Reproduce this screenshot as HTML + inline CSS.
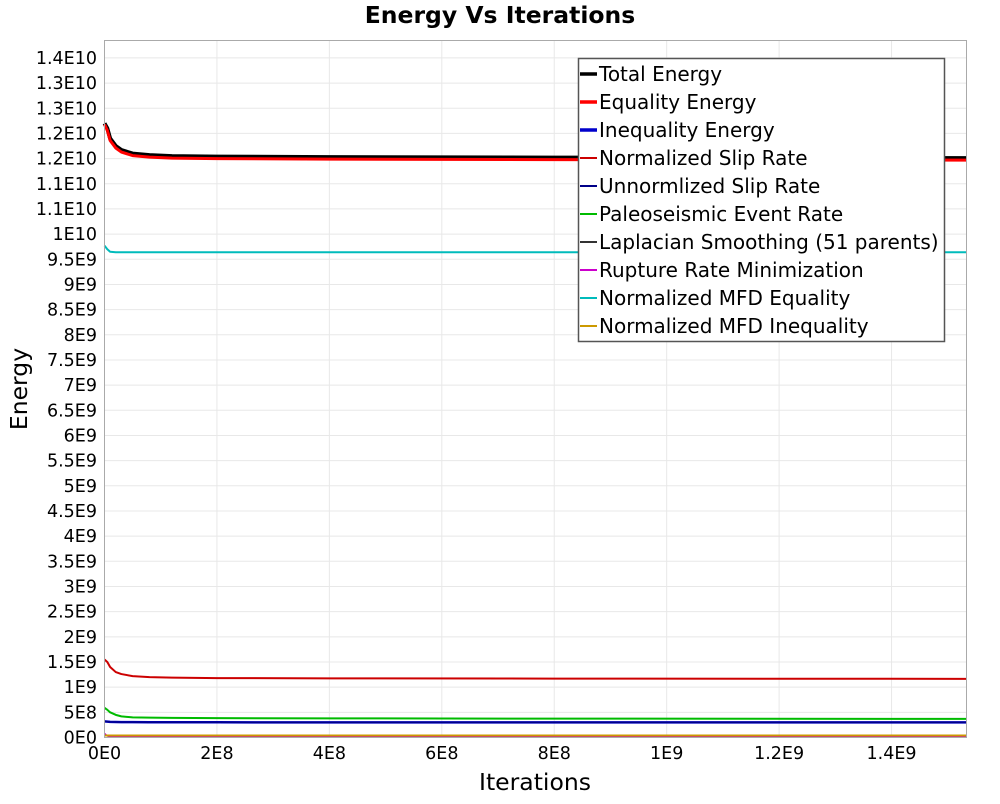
<!DOCTYPE html>
<html><head><meta charset="utf-8"><style>
body{margin:0;background:#fff;font-family:"DejaVu Sans","Liberation Sans",sans-serif}
</style></head><body>
<svg id="chart" width="1000" height="800" xmlns="http://www.w3.org/2000/svg" font-family="DejaVu Sans, Liberation Sans, sans-serif">
<text x="500" y="23" text-anchor="middle" font-size="23.5" font-weight="bold">Energy Vs Iterations</text>
<g id="grid"></g>
<g id="series"></g>
<rect x="104.5" y="40.5" width="862" height="697" fill="none" stroke="#aaa"/>
<g id="yticks"></g><g id="xticks"></g>
<text transform="translate(27,389) rotate(-90)" text-anchor="middle" font-size="23.5">Energy</text>
<text x="535" y="790" text-anchor="middle" font-size="23.5">Iterations</text>
<g id="legend"></g>
</svg>
<script>
const xs=[0,0.05e8,0.1e8,0.2e8,0.3e8,0.5e8,0.8e8,1.2e8,2e8,4e8,8e8,15.33e8];
const totalEnergy=[1.22e10,1.21e10,1.19e10,1.175e10,1.167e10,1.16e10,1.157e10,1.155e10,1.154e10,1.153e10,1.152e10,1.151e10];
const equalityEnergy=[1.218e10,1.206e10,1.186e10,1.171e10,1.163e10,1.156e10,1.153e10,1.151e10,1.15e10,1.149e10,1.148e10,1.147e10];
const inequalityEnergy=[3.2e8,3.15e8,3.1e8,3.08e8,3.06e8,3.05e8,3.04e8,3.03e8,3.02e8,3.01e8,3.0e8,3.0e8];
const normSlip=[1.55e9,1.5e9,1.4e9,1.3e9,1.26e9,1.22e9,1.2e9,1.19e9,1.18e9,1.175e9,1.17e9,1.165e9];
const unnormSlip=[3.2e8,3.15e8,3.1e8,3.08e8,3.06e8,3.05e8,3.04e8,3.03e8,3.02e8,3.01e8,3.0e8,3.0e8];
const paleo=[5.9e8,5.5e8,5.0e8,4.5e8,4.2e8,4.0e8,3.95e8,3.9e8,3.85e8,3.8e8,3.75e8,3.7e8];
const laplacian=[4e7,3.5e7,3e7,3e7,3e7,3e7,3e7,3e7,3e7,3e7,3e7,3e7];
const rupture=[8e7,3e7,2e7,2e7,2e7,2e7,2e7,2e7,2e7,2e7,2e7,2e7];
const mfdEq=[9.77e9,9.7e9,9.65e9,9.64e9,9.64e9,9.64e9,9.64e9,9.64e9,9.64e9,9.64e9,9.64e9,9.64e9];
const mfdIneq=[4e7,4e7,4e7,4e7,4e7,4e7,4e7,4e7,4e7,4e7,4e7,4e7];
const yTickVals=[0,5e8,1e9,1.5e9,2e9,2.5e9,3e9,3.5e9,4e9,4.5e9,5e9,5.5e9,6e9,6.5e9,7e9,7.5e9,8e9,8.5e9,9e9,9.5e9,1e10,1.05e10,1.1e10,1.15e10,1.2e10,1.25e10,1.3e10,1.35e10];
const yTickLabels=["0E0","5E8","1E9","1.5E9","2E9","2.5E9","3E9","3.5E9","4E9","4.5E9","5E9","5.5E9","6E9","6.5E9","7E9","7.5E9","8E9","8.5E9","9E9","9.5E9","1E10","1.1E10","1.1E10","1.2E10","1.2E10","1.3E10","1.3E10","1.4E10"];
const xTickVals=[0,2e8,4e8,6e8,8e8,1e9,1.2e9,1.4e9];
const xTickLabels=["0E0","2E8","4E8","6E8","8E8","1E9","1.2E9","1.4E9"];
const seriesNames=["Total Energy","Equality Energy","Inequality Energy","Normalized Slip Rate","Unnormlized Slip Rate","Paleoseismic Event Rate","Laplacian Smoothing (51 parents)","Rupture Rate Minimization","Normalized MFD Equality","Normalized MFD Inequality"];

const X=v=>104.5+v*(862/1.5333e9);
const Y=v=>737.5-v*(25.17/5e8);
const NS="http://www.w3.org/2000/svg";
function mk(t,p,a){const e=document.createElementNS(NS,t);for(const k in a)e.setAttribute(k,a[k]);p.appendChild(e);return e;}
const grid=document.getElementById('grid'),yt=document.getElementById('yticks'),xt=document.getElementById('xticks');
yTickVals.forEach((v,i)=>{
 const l=mk('line',grid,{x1:104.5,x2:966.5,y1:Y(v),y2:Y(v),stroke:'#e8e8e8'});
 
 
 const t=mk('text',yt,{x:97,y:Y(v)+6,'text-anchor':'end','font-size':17.5});
 
 
 t.textContent=yTickLabels[i];
});
xTickVals.forEach((v,i)=>{
 const l=mk('line',grid,{x1:X(v),x2:X(v),y1:40.5,y2:737.5,stroke:'#e8e8e8'});
 
 
 const t=mk('text',xt,{x:X(v),y:759,'text-anchor':'middle','font-size':17.5});
 
 
 t.textContent=xTickLabels[i];
});
const ser=[[totalEnergy,'#000',4],[equalityEnergy,'#f00',3],[inequalityEnergy,'#00c',2.5],[normSlip,'#c00',2],[unnormSlip,'#008',1.5],[paleo,'#0b0',2],[laplacian,'#333',1.5],[rupture,'#c0c',1.5],[mfdEq,'#0bb',2],[mfdIneq,'#c90',2]];
const sg=document.getElementById('series');
const order=[8,3,5,2,4,6,7,9,0,1];
order.forEach(i=>{
 const [d,c,w]=ser[i];
 const p=mk('polyline',sg,{points:d.map((v,j)=>X(xs[j])+','+Y(v)).join(' '),fill:'none',stroke:c,'stroke-width':w,'stroke-linejoin':'round'});
 
 
});
const lg=document.getElementById('legend');
const box=mk('rect',lg,{x:578.5,y:58.5,width:366,height:283,fill:'#fff',stroke:'#555','stroke-width':1.5});


seriesNames.forEach((n,i)=>{
 const y=74+i*28;
 const l=mk('line',lg,{x1:580,x2:597,y1:y,y2:y,stroke:ser[i][1],'stroke-width':i<3?3.5:2});
 
 
 const t=mk('text',lg,{x:599,y:y+7,'font-size':20});
 
 
 t.textContent=n;
});
</script>
</body></html>
